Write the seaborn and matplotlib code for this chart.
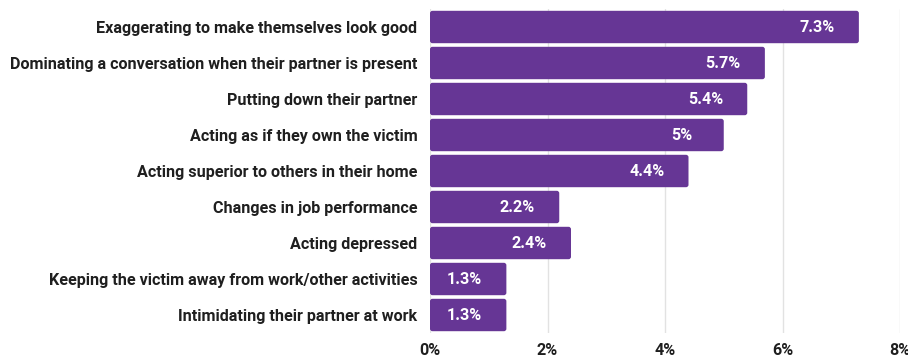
import matplotlib
matplotlib.use("Agg")
import matplotlib.pyplot as plt
from matplotlib.patches import FancyBboxPatch
import seaborn as sns
import pandas as pd

behaviors = [
    "Exaggerating to make themselves look good",
    "Dominating a conversation when their partner is present",
    "Putting down their partner",
    "Acting as if they own the victim",
    "Acting superior to others in their home",
    "Changes in job performance",
    "Acting depressed",
    "Keeping the victim away from work/other activities",
    "Intimidating their partner at work",
]
shares = [7.3, 5.7, 5.4, 5.0, 4.4, 2.2, 2.4, 1.3, 1.3]
value_labels = ["7.3%", "5.7%", "5.4%", "5%", "4.4%", "2.2%", "2.4%", "1.3%", "1.3%"]
x_ticks = [0, 2, 4, 6, 8]
x_tick_labels = ["0%", "2%", "4%", "6%", "8%"]

df = pd.DataFrame({"behavior": behaviors, "share": shares})

sns.set_theme(style="white")
plt.rcParams["font.family"] = ["Roboto", "DejaVu Sans"]

BAR = "#663695"
TEXT = "#1f1f1f"
FS = 11.6

fig = plt.figure(figsize=(9.08, 3.58), dpi=100)
ax = fig.add_axes([430 / 908, 1 - 333 / 358, 470 / 908, 324 / 358])

sns.barplot(data=df, x="share", y="behavior", color=BAR, saturation=1,
            width=0.9, ax=ax, zorder=2)

# swap the square bars for ones with slightly rounded corners
px_x = 470 / 8.0
px_y = 324 / 9.0
r = 2.5
for p in list(ax.patches):
    x0, y0 = p.get_x(), p.get_y()
    w, h = p.get_width(), p.get_height()
    rb = FancyBboxPatch((x0, y0), w, h,
                        boxstyle=f"round,pad=0,rounding_size={r / px_x}",
                        mutation_aspect=(r / px_y) / (r / px_x),
                        facecolor=BAR, edgecolor="none", zorder=2)
    p.remove()
    ax.add_patch(rb)

for i, (v, lab) in enumerate(zip(shares, value_labels)):
    ax.annotate(lab, xy=(v, i), xytext=(-30, 0), textcoords="offset points",
                ha="center", va="center", color="white",
                fontsize=FS, fontweight="bold", zorder=3)

ax.set_xlim(0, 8)
ax.set_ylim(8.5, -0.5)
ax.set_xticks(x_ticks)
ax.set_xticklabels(x_tick_labels)
ax.set_xlabel("")
ax.set_ylabel("")
ax.xaxis.grid(True, color="#e2e2e2", linewidth=1, zorder=0)
ax.yaxis.grid(False)
for s in ax.spines.values():
    s.set_visible(False)
ax.tick_params(axis="x", length=0, pad=7, labelsize=FS, labelcolor=TEXT)
ax.tick_params(axis="y", length=0, pad=9, labelsize=FS, labelcolor=TEXT)
for t in ax.get_xticklabels() + ax.get_yticklabels():
    t.set_fontweight("bold")

fig.savefig("out.png", dpi=100)
